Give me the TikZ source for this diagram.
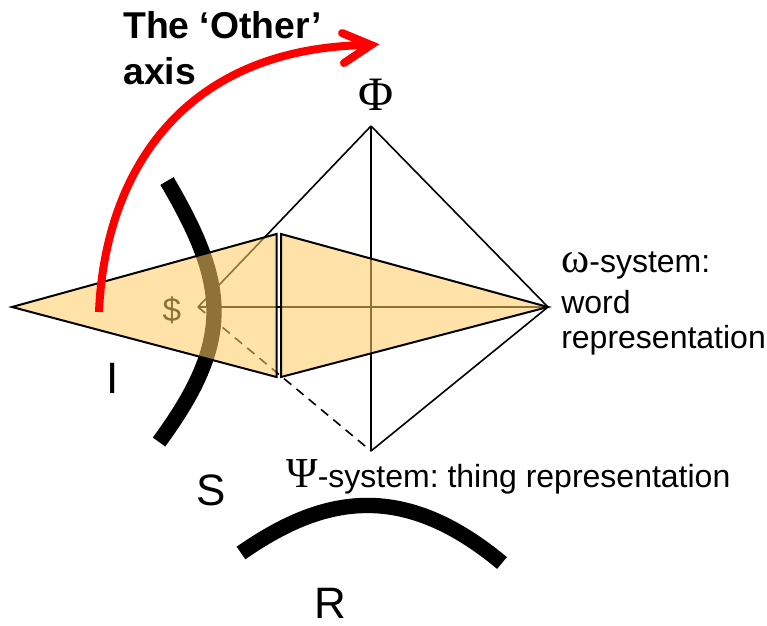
\documentclass[tikz,border=0pt]{standalone}
\usepackage{fontspec}
\setmainfont{Liberation Sans}
\newfontfamily\serifgr{Liberation Serif}
\definecolor{tan}{RGB}{255,204,100}
\frenchspacing
\tikzset{
  wire/.style={draw=black,line width=1.2pt},
  tri/.style={draw=black,line width=1.5pt,line join=miter},
  thick arc/.style={draw=black,line width=11.5pt},
  lab/.style={inner sep=0pt,anchor=west,align=left,text=black},
}
\begin{document}
\begin{tikzpicture}[x=0.75pt,y=-0.75pt]
\useasboundingbox (0,0) rectangle (767,625);
\coordinate (top) at (371,126);
\coordinate (right) at (548,307);
\coordinate (bottom) at (371,451);
\coordinate (back) at (198,307);
\coordinate (far) at (12,307);
\coordinate (la) at (276.5,234);
\coordinate (lb) at (276.5,377);
\coordinate (ra) at (281,234);
\coordinate (rb) at (281,377);
% labels under the fill
\node[inner sep=0pt,text=black] (dollar) at (172,310) {\fontsize{25}{28}\selectfont\$};
% pyramid
\draw[wire] (back) -- (top);
\draw[wire] (top) -- (right);
\draw[wire] (right) -- (bottom);
\draw[wire] (top) -- (bottom);
\draw[wire] (back) -- (right);
\draw[wire,dashed,dash pattern=on 7pt off 5pt] (back) -- (bottom);
% imaginary arc
\coordinate (ia) at (167,181);
\coordinate (ib) at (159,442);
\draw[thick arc] (ia) .. controls (228,285) and (234,340) .. (ib);
% triangles
\fill[tan,fill opacity=0.56] (far) -- (la) -- (lb) -- cycle;
\fill[tan,fill opacity=0.56] (ra) -- (right) -- (rb) -- cycle;
\draw[tri] (lb) -- (far) -- (la) -- cycle;
\draw[tri] (ra) -- (right) -- (rb) -- cycle;
% real arc
\coordinate (ra1) at (241,553);
\coordinate (ra2) at (502,563);
\draw[thick arc] (ra1) .. controls (320,498) and (400,478) .. (ra2);
% other axis arrow
\coordinate (ax1) at (99,312);
\coordinate (ax2) at (371,45);
\coordinate (axu) at (342,33);
\coordinate (axd) at (344,63);
\draw[red,line width=6pt] (ax1) .. controls (105,170) and (185,46) .. (ax2);
\draw[red,line width=6pt,line cap=round,line join=miter] (axu) -- (ax2) -- (axd);
% text
\node[lab,font=\bfseries\fontsize{28}{32}\selectfont] (other) at (123,25) {The ‘Other’};
\node[lab,font=\bfseries\fontsize{28}{32}\selectfont] (axis) at (123,71) {axis};
\node[inner sep=0pt,font=\serifgr\fontsize{36}{38}\selectfont] (phi) at (376,95) {Φ};
\node[lab,font=\fontsize{24}{28}\selectfont] (w1) at (561,265) {{\serifgr\fontsize{32}{34}\selectfont ω}-system:};
\node[lab,font=\fontsize{24}{28}\selectfont] (w2) at (561,302) {word};
\node[lab,font=\fontsize{24}{28}\selectfont] (w3) at (561,340) {representation};
\node[lab,font=\fontsize{24}{28}\selectfont] (psi) at (286,477) {{\serifgr\fontsize{32}{34}\selectfont Ψ}-system: thing representation};
\node[inner sep=0pt,font=\fontsize{33}{36}\selectfont] (I) at (113,378) {I};
\node[inner sep=0pt,font=\fontsize{33}{36}\selectfont] (S) at (211,490) {S};
\node[inner sep=0pt,font=\fontsize{33}{36}\selectfont] (R) at (330,603) {R};
\end{tikzpicture}
\end{document}
